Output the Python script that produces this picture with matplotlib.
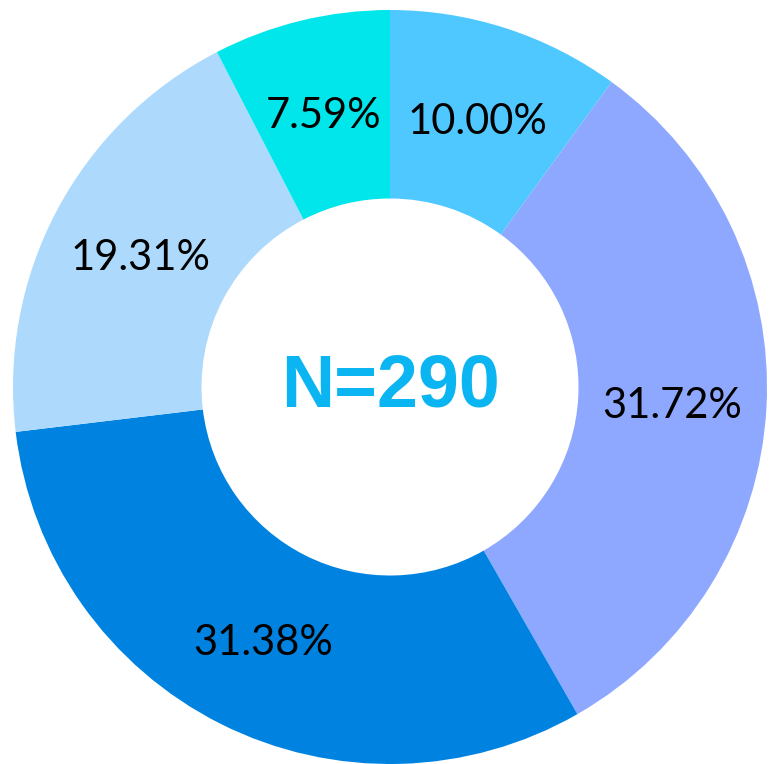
import matplotlib
matplotlib.use("Agg")
import matplotlib.pyplot as plt
import numpy as np

categories = ["A", "B", "C", "D", "E"]
values = [10.00, 31.72, 31.38, 19.31, 7.59]
labels = ["10.00%", "31.72%", "31.38%", "19.31%", "7.59%"]
colors = ["#4FC8FF", "#8FA8FF", "#0083E0", "#ADDAFC", "#00E6EA"]
center_text = "N=290"

W, H = 770, 764
fig = plt.figure(figsize=(W / 100, H / 100), dpi=100)
ax = fig.add_axes([0, 0, 1, 1])
R = 377.0
cx, cy = 390.0, 387.0
wedges, _ = ax.pie(values, colors=colors, startangle=90, counterclock=False,
                   radius=1.0, wedgeprops=dict(width=0.5, edgecolor="none"))
ang = 90.0
for v, lab in zip(values, labels):
    mid = ang - v / 100 * 360 / 2
    ang -= v / 100 * 360
    r = 0.75
    ax.text(r * np.cos(np.radians(mid)), r * np.sin(np.radians(mid)) - 0.01, lab,
            ha="center", va="center", fontsize=30, family="Lato", color="black")
ax.text(0, 0, center_text, ha="center", va="center", fontsize=53,
        fontweight="bold", family="Liberation Sans", color="#0BB5F2")
ax.set_xlim(-cx / R, (W - cx) / R)
ax.set_ylim(-(H - cy) / R, cy / R)
ax.set_aspect("equal")
ax.axis("off")
fig.savefig("out.png", dpi=100)
